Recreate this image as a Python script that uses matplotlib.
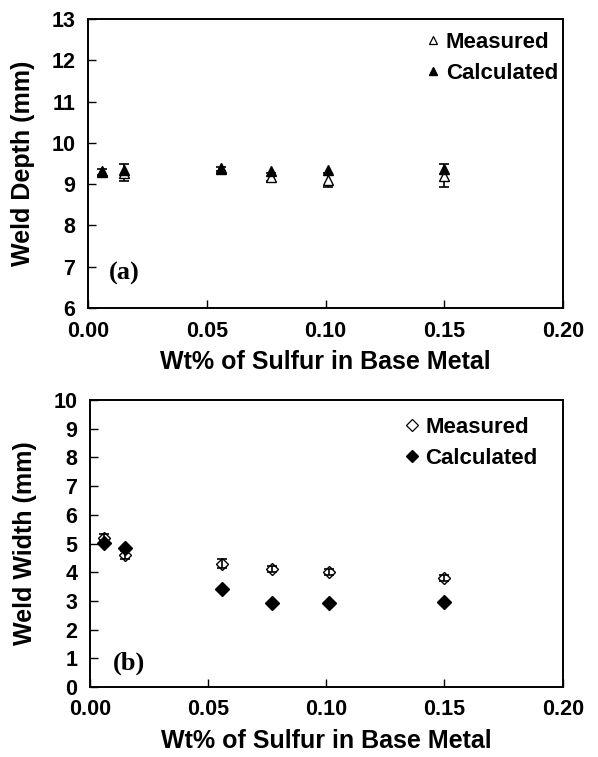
import matplotlib

matplotlib.use("Agg")

import matplotlib.pyplot as plt
from matplotlib.lines import Line2D


# Datos
sulfur_wt = [0.006, 0.015, 0.056, 0.077, 0.101, 0.150]

depth_measured = [9.29, 9.28, 9.37, 9.18, 9.10, 9.20]
depth_measured_err = [0.08, 0.20, 0.05, 0.10, 0.18, 0.28]
depth_calculated = [9.33, 9.34, 9.39, 9.32, 9.34, 9.36]

width_measured = [5.20, 4.60, 4.30, 4.10, 4.00, 3.80]
width_measured_err = [0.12, 0.15, 0.15, 0.10, 0.10, 0.12]
width_calculated = [5.02, 4.85, 3.42, 2.94, 2.94, 2.96]

x_ticks = [0.00, 0.05, 0.10, 0.15, 0.20]
x_tick_labels = ["0.00", "0.05", "0.10", "0.15", "0.20"]


plt.rcParams["font.family"] = ["Liberation Sans", "DejaVu Sans"]
plt.rcParams["font.weight"] = "bold"

SERIF = ["Liberation Serif", "DejaVu Serif"]


def style_axes(ax, ylim, yticks, ylabel):
    """Formato comun de ejes: ticks hacia dentro, etiquetas en negrita."""
    ax.set_xlim(0, 0.20)
    ax.set_ylim(*ylim)
    ax.set_xticks(x_ticks)
    ax.set_xticklabels(x_tick_labels, fontsize=15.5, fontweight="bold")
    ax.set_yticks(list(yticks))
    ax.set_yticklabels([str(v) for v in yticks], fontsize=15.5, fontweight="bold")
    ax.tick_params(axis="both", direction="in", length=6, width=1.0, pad=9)
    for spine in ax.spines.values():
        spine.set_linewidth(1.4)
    ax.set_xlabel("Wt% of Sulfur in Base Metal", fontsize=18, fontweight="bold", labelpad=6)
    ax.set_ylabel(ylabel, fontsize=18, fontweight="bold", labelpad=12)


def add_legend(ax, marker, anchor):
    """Leyenda solo con marcadores (sin barras de error)."""
    handles = [
        Line2D([], [], linestyle="none", marker=marker, markersize=6,
               markerfacecolor="white", markeredgecolor="black", markeredgewidth=0.9),
        Line2D([], [], linestyle="none", marker=marker, markersize=6,
               markerfacecolor="black", markeredgecolor="black"),
    ]
    ax.legend(handles, ["Measured", "Calculated"], loc="upper right",
              bbox_to_anchor=anchor, frameon=False, handletextpad=0.1,
              handlelength=1.0, labelspacing=0.45, borderaxespad=0.3,
              prop={"weight": "bold", "size": 16})


fig = plt.figure(figsize=(5.98, 7.57), dpi=100)
ax_top = fig.add_axes([0.147, 0.593, 0.795, 0.382])
ax_bot = fig.add_axes([0.150, 0.0925, 0.791, 0.379])

# (a) profundidad de soldadura
ax_top.errorbar(sulfur_wt, depth_measured, yerr=depth_measured_err, fmt="^",
                color="black", markerfacecolor="white", markeredgecolor="black",
                markersize=7, elinewidth=1.2, capsize=3.5, capthick=1.2, zorder=2)
ax_top.plot(sulfur_wt, depth_calculated, "^", color="black", markersize=7, zorder=3)
style_axes(ax_top, (6, 13), range(6, 14), "Weld Depth (mm)")
ax_top.text(0.009, 6.85, "(a)", fontsize=19, fontweight="bold", family=SERIF, va="center")
add_legend(ax_top, "^", (1.022, 1.01))

# (b) ancho de soldadura
ax_bot.errorbar(sulfur_wt, width_measured, yerr=width_measured_err, fmt="D",
                color="black", markerfacecolor="none", markeredgecolor="black",
                markersize=6, elinewidth=1.2, capsize=3.5, capthick=1.2, zorder=2)
ax_bot.plot(sulfur_wt, width_calculated, "D", color="black", markersize=7, zorder=3)
style_axes(ax_bot, (0, 10), range(0, 11), "Weld Width (mm)")
ax_bot.text(0.010, 0.84, "(b)", fontsize=19, fontweight="bold", family=SERIF, va="center")
add_legend(ax_bot, "D", (0.980, 0.995))

fig.savefig("out.png", dpi=100)
